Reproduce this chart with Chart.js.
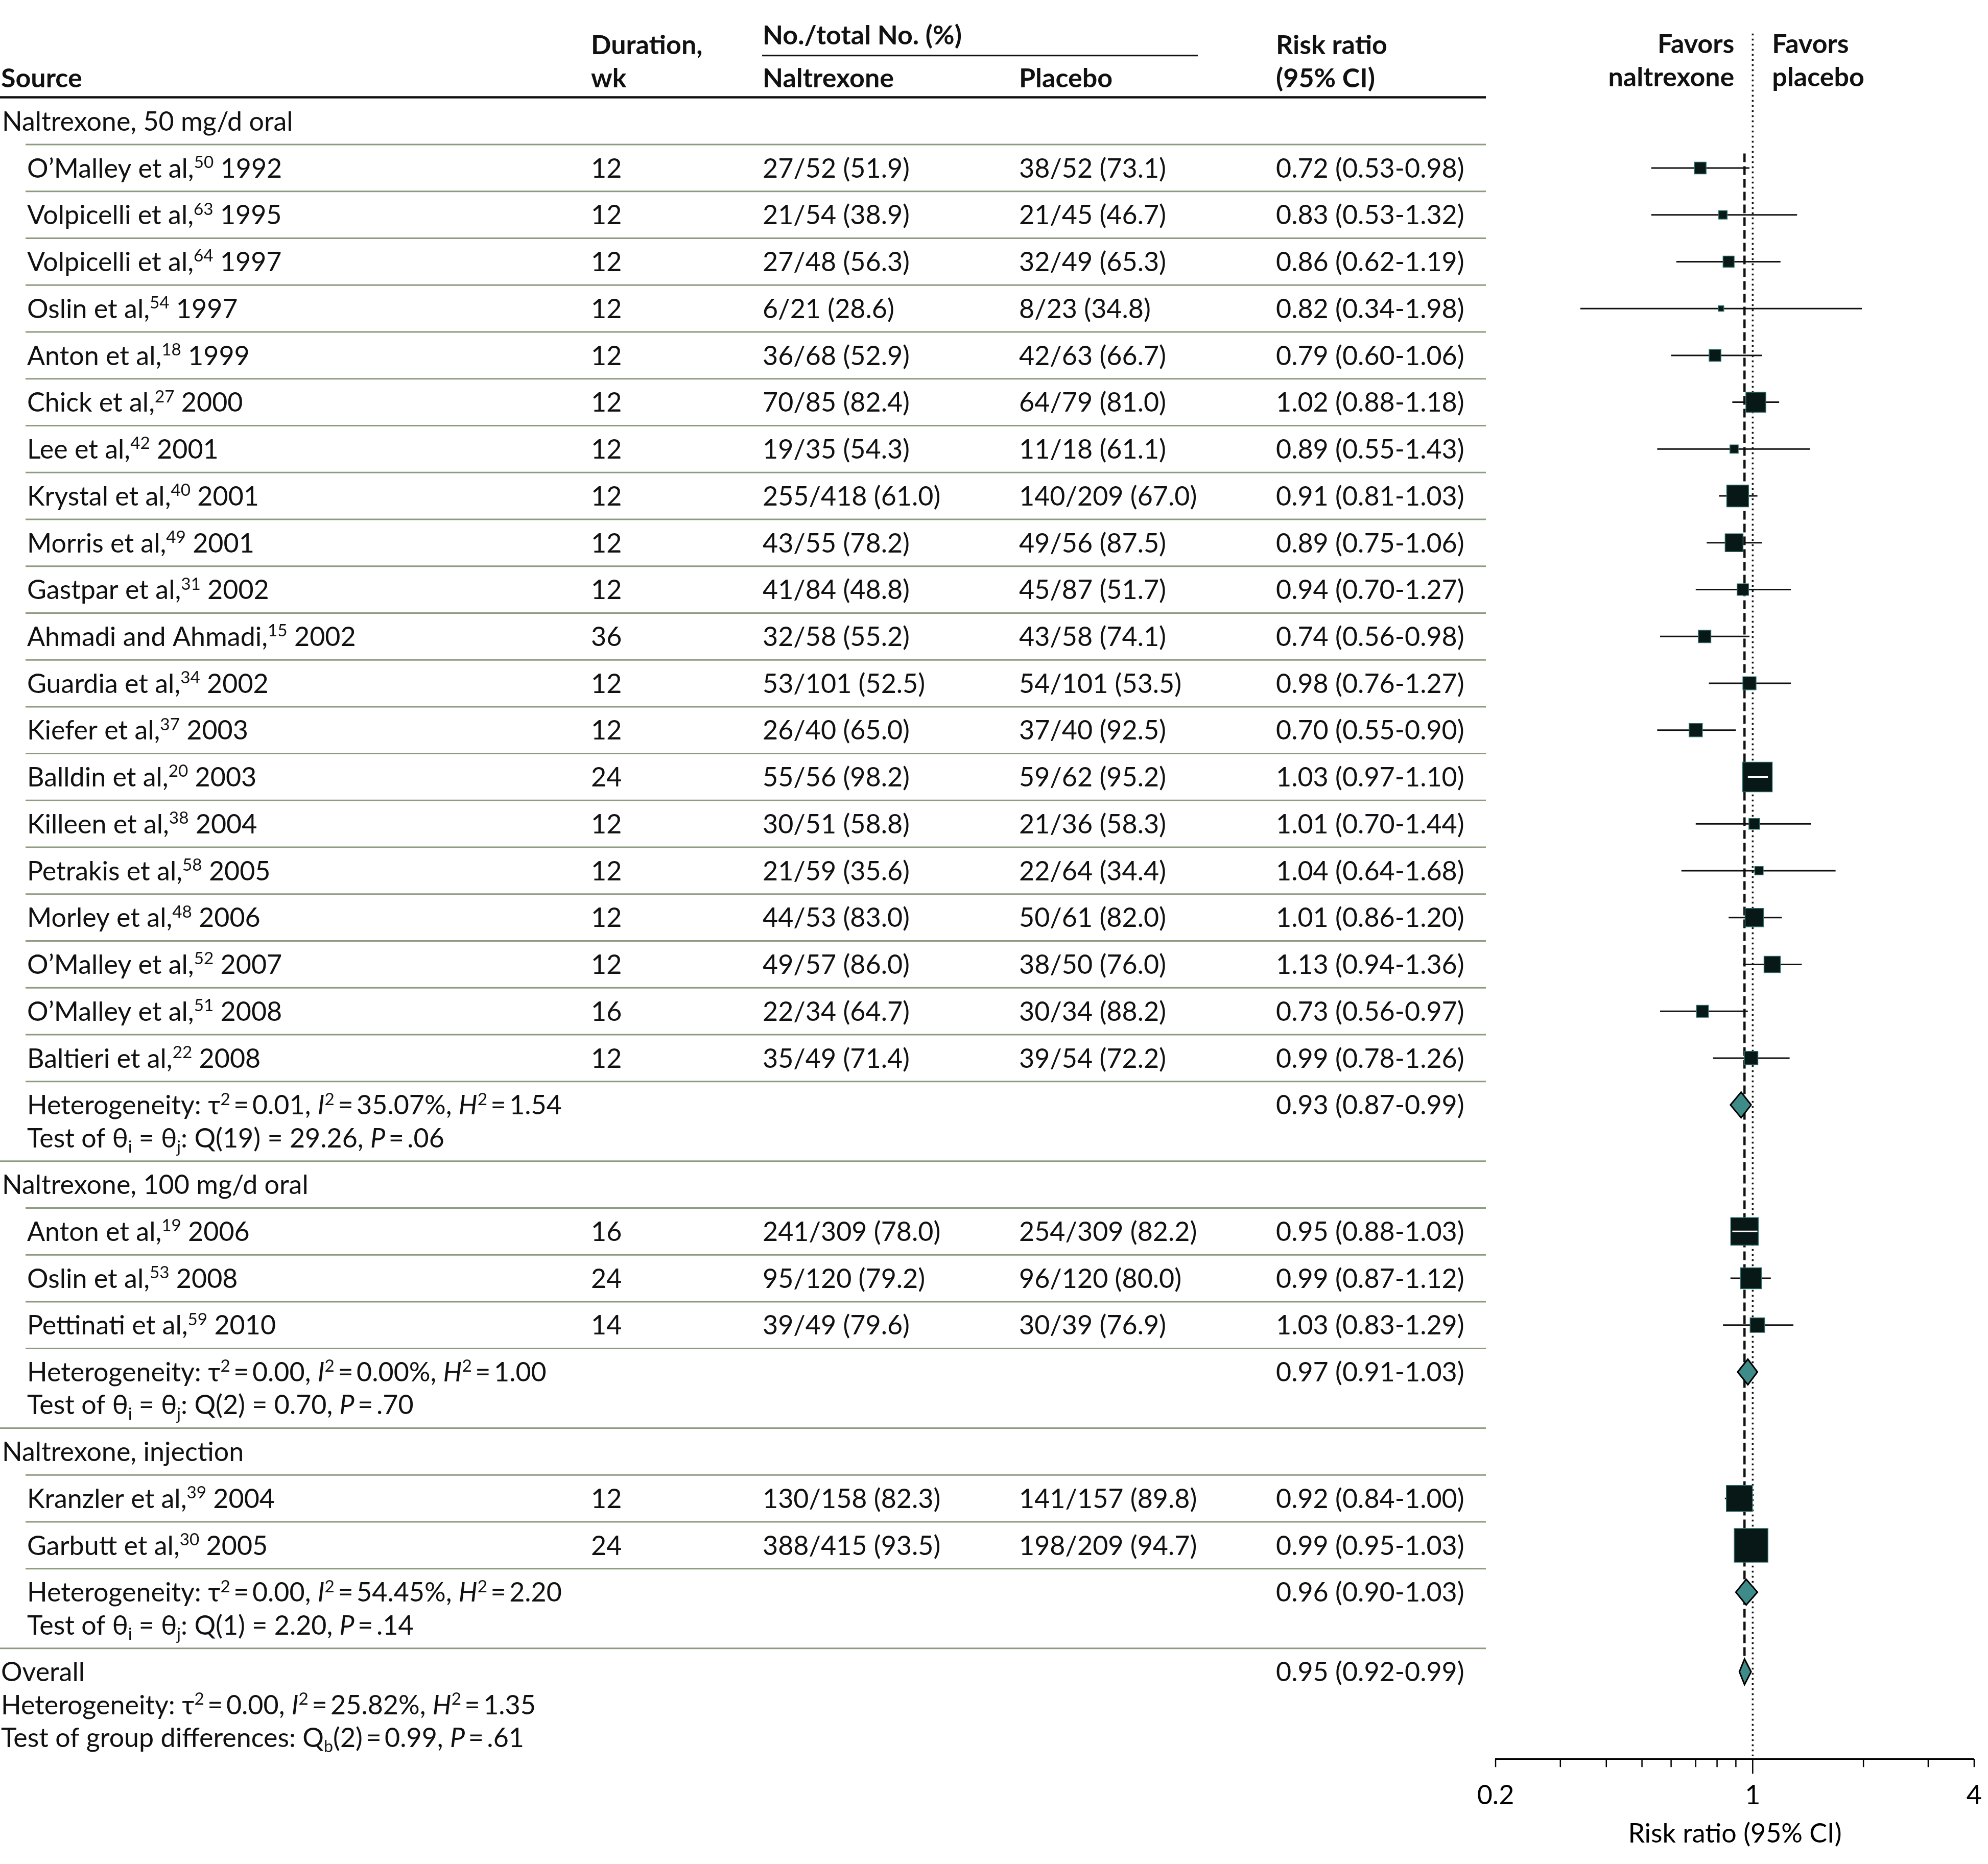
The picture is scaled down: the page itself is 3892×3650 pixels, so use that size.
<!DOCTYPE html>
<html>
<head>
<meta charset="utf-8">
<script src="https://cdn.jsdelivr.net/npm/chart.js@4.4.1/dist/chart.umd.min.js"></script>
<style>
  html, body { margin: 0; padding: 0; background: #fff; }
  canvas { display: block; }
</style>
</head>
<body>
<canvas id="forest" width="3892" height="3650"></canvas>
<script>
// Study level data
const studyNames = ['O’Malley et al,', 'Volpicelli et al,', 'Volpicelli et al,', 'Oslin et al,', 'Anton et al,',
  'Chick et al,', 'Lee et al,', 'Krystal et al,', 'Morris et al,', 'Gastpar et al,', 'Ahmadi and Ahmadi,',
  'Guardia et al,', 'Kiefer et al,', 'Balldin et al,', 'Killeen et al,', 'Petrakis et al,', 'Morley et al,',
  'O’Malley et al,', 'O’Malley et al,', 'Baltieri et al,',
  'Anton et al,', 'Oslin et al,', 'Pettinati et al,',
  'Kranzler et al,', 'Garbutt et al,'];
const studyRefs = [50, 63, 64, 54, 18, 27, 42, 40, 49, 31, 15, 34, 37, 20, 38, 58, 48, 52, 51, 22, 19, 53, 59, 39, 30];
const studyYears = [1992, 1995, 1997, 1997, 1999, 2000, 2001, 2001, 2001, 2002, 2002, 2002, 2003, 2003, 2004, 2005,
  2006, 2007, 2008, 2008, 2006, 2008, 2010, 2004, 2005];
const studyGroup = [0, 0, 0, 0, 0, 0, 0, 0, 0, 0, 0, 0, 0, 0, 0, 0, 0, 0, 0, 0, 1, 1, 1, 2, 2];
const durationWk = [12, 12, 12, 12, 12, 12, 12, 12, 12, 12, 36, 12, 12, 24, 12, 12, 12, 12, 16, 12, 16, 24, 14, 12, 24];
const nalEvents = [27, 21, 27, 6, 36, 70, 19, 255, 43, 41, 32, 53, 26, 55, 30, 21, 44, 49, 22, 35, 241, 95, 39, 130, 388];
const nalTotal = [52, 54, 48, 21, 68, 85, 35, 418, 55, 84, 58, 101, 40, 56, 51, 59, 53, 57, 34, 49, 309, 120, 49, 158, 415];
const plaEvents = [38, 21, 32, 8, 42, 64, 11, 140, 49, 45, 43, 54, 37, 59, 21, 22, 50, 38, 30, 39, 254, 96, 30, 141, 198];
const plaTotal = [52, 45, 49, 23, 63, 79, 18, 209, 56, 87, 58, 101, 40, 62, 36, 64, 61, 50, 34, 54, 309, 120, 39, 157, 209];
const riskRatio = [0.72, 0.83, 0.86, 0.82, 0.79, 1.02, 0.89, 0.91, 0.89, 0.94, 0.74, 0.98, 0.70, 1.03, 1.01, 1.04,
  1.01, 1.13, 0.73, 0.99, 0.95, 0.99, 1.03, 0.92, 0.99];
const ciLow = [0.53, 0.53, 0.62, 0.34, 0.60, 0.88, 0.55, 0.81, 0.75, 0.70, 0.56, 0.76, 0.55, 0.97, 0.70, 0.64,
  0.86, 0.94, 0.56, 0.78, 0.88, 0.87, 0.83, 0.84, 0.95];
const ciHigh = [0.98, 1.32, 1.19, 1.98, 1.06, 1.18, 1.43, 1.03, 1.06, 1.27, 0.98, 1.27, 0.90, 1.10, 1.44, 1.68,
  1.20, 1.36, 0.97, 1.26, 1.03, 1.12, 1.29, 1.00, 1.03];
// weight in %
const weightPct = [1.81, 0.94, 1.60, 0.40, 1.84, 5.21, 0.90, 6.24, 4.19, 1.72, 2.05, 2.26, 2.31, 11.52, 1.51, 0.93,
  4.44, 3.51, 1.89, 2.40, 9.98, 5.75, 2.78, 8.90, 14.91];

// Subgroup and overall summaries
const groupLabels = ['Naltrexone, 50 mg/d oral', 'Naltrexone, 100 mg/d oral', 'Naltrexone, injection'];
const groupTau2 = ['0.01', '0.00', '0.00'];
const groupI2 = ['35.07%', '0.00%', '54.45%'];
const groupH2 = ['1.54', '1.00', '2.20'];
const groupQdf = [19, 2, 1];
const groupQ = ['29.26', '0.70', '2.20'];
const groupP = ['.06', '.70', '.14'];
const groupRR = [0.93, 0.97, 0.96];
const groupLow = [0.87, 0.91, 0.90];
const groupHigh = [0.99, 1.03, 1.03];
const overallRR = [0.95];
const overallLow = [0.92];
const overallHigh = [0.99];
const overallHet = ['0.00', '25.82%', '1.35'];
const overallQb = [2, '0.99', '.61'];

const xTicks = [0.2, 0.3, 0.4, 0.5, 0.6, 0.7, 0.8, 0.9, 1, 2, 3, 4];
const xTickLabels = { 0.2: '0.2', 1: '1', 4: '4' };

// ---- layout (row units along the y scale) ----
const FONT = 'Lato, "Open Sans", sans-serif';
const FS = 52;
const INK = '#111';
const RULE = '#8e9b80';

const studyY = [];
const groupHeaderY = [], groupHetY = [], sepY = [], thinLines = [];
let cur = 0;
groupLabels.forEach((lab, g) => {
  groupHeaderY.push(cur);
  thinLines.push(cur + 0.5);
  studyGroup.forEach((sg, i) => {
    if (sg !== g) return;
    cur += 1;
    studyY[i] = cur;
    thinLines.push(cur + 0.5);
  });
  cur += 1;
  groupHetY.push(cur);
  sepY.push(cur + 1.2);
  cur += 1.7;
});
const overallY = cur;

function fmtPct(a, b) { return a + '/' + b + ' (' + (a / b * 100).toFixed(1) + ')'; }
function fmtRR(r, l, h) { return r.toFixed(2) + ' (' + l.toFixed(2) + '-' + h.toFixed(2) + ')'; }

// style codes: I italic, ^ superscript, _ subscript, B bold
function drawRich(ctx, x, y, parts, size) {
  let cx = x;
  for (const [t, st = ''] of parts) {
    let fs = size, dy = 0;
    if (st.includes('^')) { fs = size * 0.64; dy = -size * 0.36; }
    if (st.includes('_')) { fs = size * 0.62; dy = size * 0.2; }
    ctx.font = (st.includes('I') ? 'italic ' : '') + (st.includes('B') ? 'bold ' : '') + fs + 'px ' + FONT;
    ctx.fillText(t, cx, y + dy);
    cx += ctx.measureText(t).width;
  }
}

function hetParts(t2, i2, h2) {
  return [['Heterogeneity: τ'], ['2', '^'], ['\u2009=\u2009' + t2 + ', '], ['I', 'I'], ['2', '^'],
    ['\u2009=\u2009' + i2 + ', '], ['H', 'I'], ['2', '^'], ['\u2009=\u2009' + h2]];
}

const BOX_SCALE = 17.1;
function boxSide(i) { return BOX_SCALE * Math.sqrt(weightPct[i]); }

const tablePlugin = {
  id: 'forestTable',
  beforeDatasetsDraw(chart) {
    const ctx = chart.ctx, ys = chart.scales.y, xs = chart.scales.x;
    const py = v => ys.getPixelForValue(v);
    const base = v => py(v) + FS * 0.36;
    const right = 2909;
    ctx.save();

    // rules
    ctx.strokeStyle = INK; ctx.lineWidth = 4.5;
    ctx.beginPath(); ctx.moveTo(0, py(-0.51)); ctx.lineTo(right, py(-0.51)); ctx.stroke();
    ctx.lineWidth = 3;
    ctx.beginPath(); ctx.moveTo(1492, py(-1.40)); ctx.lineTo(2345, py(-1.40)); ctx.stroke();
    ctx.strokeStyle = RULE; ctx.lineWidth = 3;
    thinLines.forEach(v => { ctx.beginPath(); ctx.moveTo(50, py(v)); ctx.lineTo(right, py(v)); ctx.stroke(); });
    sepY.forEach(v => { ctx.beginPath(); ctx.moveTo(0, py(v)); ctx.lineTo(right, py(v)); ctx.stroke(); });

    // header
    ctx.fillStyle = INK; ctx.textAlign = 'left'; ctx.textBaseline = 'alphabetic';
    ctx.font = 'bold ' + FS + 'px ' + FONT;
    ctx.fillText('Source', 2, base(-0.93));
    ctx.fillText('Duration,', 1157, base(-1.63));
    ctx.fillText('wk', 1157, base(-0.93));
    ctx.fillText('No./total No. (%)', 1493, base(-1.84));
    ctx.fillText('Naltrexone', 1493, base(-0.93));
    ctx.fillText('Placebo', 1995, base(-0.93));
    ctx.fillText('Risk ratio', 2498, base(-1.63));
    ctx.fillText('(95% CI)', 2498, base(-0.93));
    const one = xs.getPixelForValue(1);
    ctx.textAlign = 'right';
    ctx.fillText('Favors', one - 36, base(-1.66));
    ctx.fillText('naltrexone', one - 36, base(-0.95));
    ctx.textAlign = 'left';
    ctx.fillText('Favors', one + 38, base(-1.66));
    ctx.fillText('placebo', one + 38, base(-0.95));

    // body
    ctx.font = FS + 'px ' + FONT;
    groupLabels.forEach((lab, g) => {
      drawRich(ctx, 4, base(groupHeaderY[g]), [[lab]], FS);
      const hy = groupHetY[g];
      drawRich(ctx, 53, base(hy), hetParts(groupTau2[g], groupI2[g], groupH2[g]), FS);
      drawRich(ctx, 53, base(hy + 0.7), [['Test of θ'], ['i', '_'], [' = θ'], ['j', '_'],
        [': Q(' + groupQdf[g] + ') = ' + groupQ[g] + ', '], ['P', 'I'], ['\u2009=\u2009' + groupP[g]]], FS);
      drawRich(ctx, 2498, base(hy), [[fmtRR(groupRR[g], groupLow[g], groupHigh[g])]], FS);
    });
    studyNames.forEach((nm, i) => {
      const b = base(studyY[i]);
      drawRich(ctx, 53, b, [[nm], [String(studyRefs[i]), '^'], [' ' + studyYears[i]]], FS);
      drawRich(ctx, 1157, b, [[String(durationWk[i])]], FS);
      drawRich(ctx, 1493, b, [[fmtPct(nalEvents[i], nalTotal[i])]], FS);
      drawRich(ctx, 1995, b, [[fmtPct(plaEvents[i], plaTotal[i])]], FS);
      drawRich(ctx, 2498, b, [[fmtRR(riskRatio[i], ciLow[i], ciHigh[i])]], FS);
    });
    drawRich(ctx, 2, base(overallY), [['Overall']], FS);
    drawRich(ctx, 2498, base(overallY), [[fmtRR(overallRR[0], overallLow[0], overallHigh[0])]], FS);
    drawRich(ctx, 2, base(overallY + 0.7), hetParts(overallHet[0], overallHet[1], overallHet[2]), FS);
    drawRich(ctx, 2, base(overallY + 1.4), [['Test of group differences: Q'], ['b', '_'],
      ['(' + overallQb[0] + ')\u2009=\u2009' + overallQb[1] + ', '], ['P', 'I'], ['\u2009=\u2009' + overallQb[2]]], FS);

    // reference lines
    ctx.strokeStyle = INK;
    ctx.lineWidth = 3.5; ctx.setLineDash([3.5, 6.5]);
    ctx.beginPath(); ctx.moveTo(one, py(-1.87)); ctx.lineTo(one, chart.chartArea.bottom - 6); ctx.stroke();
    const ov = xs.getPixelForValue(overallRR[0]);
    ctx.lineWidth = 4.5; ctx.setLineDash([17, 8]);
    ctx.beginPath(); ctx.moveTo(ov, py(0.69)); ctx.lineTo(ov, py(overallY + 0.27)); ctx.stroke();
    ctx.setLineDash([]);

    // confidence intervals
    ctx.lineWidth = 3;
    studyY.forEach((v, i) => {
      ctx.beginPath();
      ctx.moveTo(xs.getPixelForValue(ciLow[i]), py(v));
      ctx.lineTo(xs.getPixelForValue(ciHigh[i]), py(v));
      ctx.stroke();
    });
    ctx.restore();
  },
  afterDatasetsDraw(chart) {
    const ctx = chart.ctx, ys = chart.scales.y, xs = chart.scales.x;
    ctx.save();
    // CI drawn in white where it sits inside a big box
    ctx.strokeStyle = '#fff'; ctx.lineWidth = 3;
    studyY.forEach((v, i) => {
      const half = boxSide(i) / 2, c = xs.getPixelForValue(riskRatio[i]);
      const l = xs.getPixelForValue(ciLow[i]), h = xs.getPixelForValue(ciHigh[i]);
      if (l > c - half && h < c + half && (h - l) > 0.6 * half * 2) {
        ctx.beginPath(); ctx.moveTo(l, ys.getPixelForValue(v)); ctx.lineTo(h, ys.getPixelForValue(v)); ctx.stroke();
      }
    });
    // diamonds
    const dia = (r, lo, hi, v) => {
      const y = ys.getPixelForValue(v);
      ctx.beginPath();
      ctx.moveTo(xs.getPixelForValue(lo), y);
      ctx.lineTo(xs.getPixelForValue(r), y - 25);
      ctx.lineTo(xs.getPixelForValue(hi), y);
      ctx.lineTo(xs.getPixelForValue(r), y + 25);
      ctx.closePath();
      ctx.fillStyle = '#3e8c8a'; ctx.fill();
      ctx.strokeStyle = '#000'; ctx.lineWidth = 3; ctx.lineJoin = 'miter'; ctx.stroke();
    };
    groupRR.forEach((r, g) => dia(r, groupLow[g], groupHigh[g], groupHetY[g]));
    dia(overallRR[0], overallLow[0], overallHigh[0], overallY);
    ctx.restore();
  },
  afterDraw(chart) {
    const ctx = chart.ctx, xs = chart.scales.x, b = chart.chartArea.bottom;
    ctx.save();
    ctx.strokeStyle = '#000'; ctx.lineWidth = 2.5;
    xTicks.forEach(v => {
      const px = xs.getPixelForValue(v);
      ctx.beginPath(); ctx.moveTo(px, b); ctx.lineTo(px, b + (v === 1 ? 29 : 16)); ctx.stroke();
    });
    ctx.restore();
  }
};

new Chart(document.getElementById('forest'), {
  type: 'scatter',
  data: {
    datasets: [{
      label: 'Studies',
      data: studyY.map((v, i) => ({ x: riskRatio[i], y: v })),
      pointStyle: 'rect',
      pointRadius: c => boxSide(c.dataIndex) / Math.SQRT2,
      backgroundColor: '#071816',
      borderColor: '#2f6f6c',
      borderWidth: 1.5
    }]
  },
  options: {
    responsive: false,
    animation: false,
    events: [],
    devicePixelRatio: 1,
    layout: { autoPadding: false, padding: { left: 2928, right: 22, top: 40, bottom: 28 } },
    plugins: { legend: { display: false }, tooltip: { enabled: false } },
    scales: {
      x: {
        type: 'logarithmic',
        min: 0.2, max: 4,
        afterBuildTicks: s => { s.ticks = xTicks.map(v => ({ value: v })); },
        ticks: {
          autoSkip: false, maxRotation: 0, padding: 12, color: '#000',
          font: { family: FONT, size: FS },
          callback: v => xTickLabels[v] || ''
        },
        grid: { display: true, drawOnChartArea: false, drawTicks: true, tickLength: 29, color: 'rgba(0,0,0,0)' },
        border: { display: true, color: '#000', width: 3 },
        title: {
          display: true, text: 'Risk ratio (95% CI)', color: '#000',
          font: { family: FONT, size: FS }, padding: { top: 0, bottom: 0 }
        }
      },
      y: {
        type: 'linear', reverse: true, display: false,
        min: -2.15, max: 34.96
      }
    }
  },
  plugins: [tablePlugin]
});
</script>
</body>
</html>
